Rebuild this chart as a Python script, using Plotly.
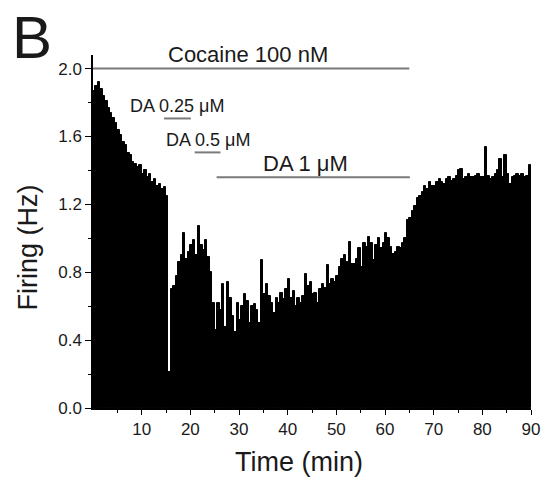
import plotly.graph_objects as go

# Time bins (min): centers of 0.5-min bins
bin_width = 0.5
time_min = [0.25 + 0.5 * i for i in range(180)]

firing_hz = [
    # 0-5
    1.87, 1.90, 1.92, 1.88, 1.84, 1.81, 1.77, 1.74, 1.71, 1.68,
    # 5-10
    1.64, 1.61, 1.57, 1.55, 1.50, 1.49, 1.45, 1.44, 1.42, 1.43,
    # 10-15
    1.38, 1.40, 1.36, 1.38, 1.33, 1.35, 1.31, 1.32, 1.29, 1.30,
    # 15-20
    1.25, 0.21, 0.70, 0.72, 0.78, 0.86, 0.90, 1.03, 0.88, 0.92,
    # 20-25
    0.96, 0.99, 0.90, 1.07, 0.96, 0.93, 0.99, 0.89, 0.80, 0.62,
    # 25-30
    0.46, 0.62, 0.58, 0.73, 0.48, 0.74, 0.65, 0.54, 0.45, 0.62,
    # 30-35
    0.52, 0.60, 0.67, 0.63, 0.50, 0.60, 0.61, 0.58, 0.50, 0.87,
    # 35-40
    0.67, 0.73, 0.66, 0.62, 0.56, 0.65, 0.62, 0.68, 0.64, 0.70,
    # 40-45
    0.76, 0.65, 0.69, 0.60, 0.65, 0.62, 0.66, 0.79, 0.72, 0.74,
    # 45-50
    0.67, 0.68, 0.62, 0.70, 0.73, 0.71, 0.84, 0.73, 0.76, 0.74,
    # 50-55
    0.78, 0.83, 0.88, 0.90, 0.86, 0.98, 0.85, 0.85, 0.88, 0.94,
    # 55-60
    0.83, 0.97, 0.95, 1.01, 0.97, 0.87, 0.96, 1.00, 0.94, 0.97,
    # 60-65
    1.03, 1.00, 0.95, 0.91, 0.92, 0.95, 0.94, 0.97, 1.00, 1.11,
    # 65-70
    1.12, 1.16, 1.19, 1.24, 1.25, 1.27, 1.31, 1.29, 1.33, 1.31,
    # 70-75
    1.31, 1.33, 1.35, 1.33, 1.32, 1.35, 1.36, 1.34, 1.35, 1.37,
    # 75-80
    1.40, 1.41, 1.35, 1.36, 1.38, 1.36, 1.36, 1.37, 1.38, 1.36,
    # 80-85
    1.36, 1.54, 1.37, 1.35, 1.36, 1.38, 1.40, 1.47, 1.36, 1.49,
    # 85-90
    1.38, 1.32, 1.36, 1.37, 1.38, 1.37, 1.38, 1.36, 1.37, 1.43,
]

# Drug application bars: (label, start, end, line level)
treatments = [
    ("Cocaine 100 nM", 0.0, 65.0, 2.0),
    ("DA 0.25 \u03bcM", 14.6, 20.1, 1.706),
    ("DA 0.5 \u03bcM", 20.9, 26.2, 1.506),
    ("DA 1 \u03bcM", 25.4, 65.1, 1.36),
]
# label positions (x center in min, y center in Hz, font size)
label_pos = [
    (31.8, 2.085, 22),
    (17.2, 1.78, 18),
    (23.7, 1.58, 18),
    (43.7, 1.44, 22),
]

x_ticks = [10, 20, 30, 40, 50, 60, 70, 80, 90]
x_minor = [5, 15, 25, 35, 45, 55, 65, 75, 85]
y_ticks = [0.0, 0.4, 0.8, 1.2, 1.6, 2.0]
y_minor = [0.2, 0.6, 1.0, 1.4, 1.8]
Y_MAX = 2.08

FONT = "Arial, Liberation Sans, sans-serif"
TXT = "#1a1a1a"

fig = go.Figure()
fig.add_trace(go.Bar(
    x=time_min, y=firing_hz, width=bin_width,
    marker=dict(color="black", line=dict(color="black", width=1)),
    showlegend=False,
))

for (label, x0, x1, lvl), (tx, ty, fs) in zip(treatments, label_pos):
    fig.add_shape(type="line", xref="x", yref="y", x0=x0, x1=x1, y0=lvl, y1=lvl,
                  line=dict(color="#7a7a7a", width=2))
    # y given in axis-domain fraction so labels above the range still show
    fig.add_annotation(x=tx, y=ty / Y_MAX, xref="x", yref="y domain", text=label,
                       showarrow=False,
                       font=dict(family=FONT, size=fs, color=TXT),
                       xanchor="center", yanchor="middle")

fig.add_annotation(x=-0.139, y=1.05, xref="paper", yref="paper", text="B",
                   showarrow=False, font=dict(family=FONT, size=60, color=TXT),
                   xanchor="center", yanchor="middle")
fig.add_annotation(x=0.47, y=-0.153, xref="paper", yref="paper", text="Time (min)",
                   showarrow=False, font=dict(family=FONT, size=27, color=TXT),
                   xanchor="center", yanchor="middle")
fig.add_annotation(x=-0.148, y=0.455, xref="paper", yref="paper", text="Firing (Hz)",
                   showarrow=False, textangle=-90,
                   font=dict(family=FONT, size=27, color=TXT),
                   xanchor="center", yanchor="middle")

fig.update_layout(
    width=552, height=479,
    margin=dict(l=93, r=13, t=55, b=71),
    paper_bgcolor="white", plot_bgcolor="white",
    bargap=0, showlegend=False,
    font=dict(family=FONT, color=TXT),
)
fig.update_xaxes(
    range=[0, 90], tickmode="array", tickvals=x_ticks,
    ticks="outside", ticklen=5, tickwidth=1.3, tickcolor="black",
    minor=dict(tickvals=x_minor, ticks="outside", ticklen=3, tickwidth=1.3, tickcolor="black"),
    showline=True, linecolor="black", linewidth=1.5,
    showgrid=False, zeroline=False,
    tickfont=dict(family=FONT, size=17, color=TXT),
)
fig.update_yaxes(
    range=[0, Y_MAX], tickmode="array", tickvals=y_ticks, tickformat=".1f",
    ticks="outside", ticklen=6, tickwidth=1.3, tickcolor="black",
    minor=dict(tickvals=y_minor, ticks="outside", ticklen=3, tickwidth=1.3, tickcolor="black"),
    showline=True, linecolor="black", linewidth=1.5,
    showgrid=False, zeroline=False,
    tickfont=dict(family=FONT, size=17, color=TXT),
)

fig.write_html("out.html", config={"displayModeBar": False},
               post_script="document.body.style.margin='0';document.body.style.overflow='hidden';")
